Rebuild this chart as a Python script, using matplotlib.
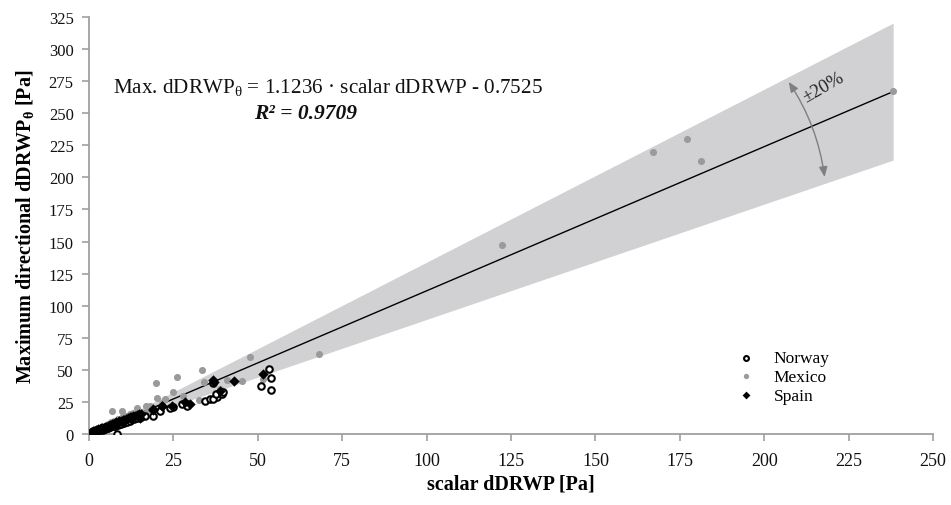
import matplotlib.pyplot as plt
import numpy as np

plt.rcParams['font.family'] = ['Liberation Serif', 'DejaVu Serif']
plt.rcParams['mathtext.fontset'] = 'custom'
plt.rcParams['mathtext.rm'] = 'Liberation Serif'
plt.rcParams['mathtext.it'] = 'Liberation Serif:italic'
plt.rcParams['mathtext.bf'] = 'Liberation Serif:bold'

# data (scalar dDRWP, max directional dDRWP)
norway_x = [0.2, 0.8, 1.3, 1.9, 2.6, 3.3, 4.0, 4.8, 5.5, 6.3, 7.0, 7.8, 8.2, 8.6, 9.5,
            10.4, 11.3, 12.2, 13.2, 14.3, 15.4, 16.5, 19.0, 21.0, 25.0, 24.0, 27.5, 28.9,
            28.9, 34.4, 35.8, 37.8, 36.8, 37.5, 39.3, 39.6, 36.6, 50.8, 53.4, 53.8, 53.8]
norway_y = [0.1, 0.6, 1.0, 1.5, 2.1, 2.8, 3.4, 4.0, 4.7, 5.4, 6.0, 6.6, 0.0, 7.4, 8.1,
            8.9, 9.7, 10.5, 11.4, 12.3, 13.2, 14.0, 14.3, 18.2, 20.8, 20.3, 23.6, 23.4,
            21.6, 26.0, 27.3, 28.6, 27.3, 31.2, 31.2, 33.0, 39.5, 37.2, 50.7, 43.6, 34.5]

mexico_x = [0.5, 1.5, 2.5, 3.5, 4.5, 5.5, 6.9, 6.5, 7.5, 8.5, 9.9, 10.2, 11.0, 12.0, 13.0,
            14.3, 15.1, 16.8, 17.5, 19.9, 20.0, 22.5, 24.8, 26.2, 27.9, 32.6, 33.6, 34.0,
            38.8, 41.0, 45.2, 47.7, 51.6, 68.0, 122.3, 167.2, 177.2, 181.3, 238.2, 15.5,
            18.0, 21.5, 2.0, 4.0]
mexico_y = [1.5, 3.0, 4.2, 5.5, 6.5, 8.0, 18.2, 9.0, 10.5, 11.5, 18.2, 13.8, 14.0, 15.5, 16.5,
            20.0, 11.7, 22.0, 19.0, 39.7, 28.0, 27.3, 33.0, 44.7, 29.9, 26.5, 49.9, 40.2,
            35.0, 42.1, 41.0, 59.8, 42.9, 62.5, 147.3, 220.0, 230.2, 212.5, 267.1, 17.0,
            21.5, 24.5, 2.8, 4.0]

spain_x = [0.3, 0.6, 0.9, 1.2, 1.5, 1.8, 2.1, 2.5, 2.8, 3.2, 3.5, 3.9, 4.3, 4.7, 5.1, 5.5,
           5.9, 6.3, 6.8, 7.2, 7.7, 8.1, 8.6, 9.0, 9.5, 10.0, 10.5, 11.0, 11.5, 12.0, 12.5,
           13.0, 13.6, 14.2, 14.8, 15.5, 2.0, 4.0, 6.0, 8.0, 10.2, 12.3, 15.0, 18.9, 19.0,
           21.5, 21.5, 24.5, 28.4, 29.9, 36.8, 37.0, 43.0, 51.5, 38.8]
spain_y = [0.5, 1.2, 1.5, 2.0, 2.2, 2.5, 3.0, 3.2, 3.6, 3.9, 4.3, 4.6, 5.0, 5.5, 5.8, 6.3,
           6.6, 7.1, 7.5, 8.1, 8.4, 9.0, 9.4, 10.0, 10.3, 10.9, 11.2, 12.0, 12.3, 13.0, 13.3,
           14.0, 14.4, 15.0, 15.5, 15.8, 1.6, 3.8, 5.4, 7.4, 9.6, 11.5, 12.8, 18.7, 19.5,
           22.0, 21.6, 22.0, 24.7, 23.4, 42.3, 40.5, 41.2, 46.5, 33.7]

slope = 1.1236
intercept = -0.7525
band = 0.20
x_max = 238.2

fig = plt.figure(figsize=(9.51, 5.06), dpi=100)
ax = fig.add_axes([0.0936, 0.1403, 0.8875, 0.8241])

xf = np.linspace(0, x_max, 200)
yf = slope * xf + intercept
ax.fill_between(xf, yf * (1 - band), yf * (1 + band), color='#d1d1d3', lw=0, zorder=1)
ax.plot(xf, yf, color='black', lw=1.0, zorder=2)

ax.scatter(mexico_x, mexico_y, s=26, color='#9a9a9a', lw=0, zorder=3, label='Mexico')
ax.scatter(norway_x, norway_y, s=22, facecolor='white', edgecolor='black', lw=1.5,
           zorder=4, label='Norway')
ax.scatter(spain_x, spain_y, s=28, marker='D', color='black', lw=0, zorder=5, label='Spain')

# +-20% arrow
ax.annotate('', xy=(218.0, 198.2), xytext=(206.8, 276.2),
            arrowprops=dict(arrowstyle='<|-|>,head_length=0.6,head_width=0.25',
                            color='#7f7f7f', lw=1.0, connectionstyle='arc3,rad=-0.12'),
            zorder=6)
ax.text(217.5, 270.5, '±20%', rotation=30, ha='center', va='center', fontsize=13.5,
        color='#222222', zorder=6)

ax.text(7.1, 271, r'Max. dDRWP$_{\mathrm{\theta}}$ = 1.1236 · scalar dDRWP - 0.7525',
        fontsize=15.2, ha='left', va='center', color='#111111')
ax.text(64, 250, 'R² = 0.9709', fontsize=15.5, fontweight='bold', fontstyle='italic',
        ha='center', va='center', color='#111111')

ax.set_xlim(0, 250)
ax.set_ylim(0, 325)
ax.set_xticks(np.arange(0, 251, 25))
ax.set_yticks(np.arange(0, 326, 25))
for s in ['top', 'right']:
    ax.spines[s].set_visible(False)
for s in ['left', 'bottom']:
    ax.spines[s].set_color('#a0a0a0')
    ax.spines[s].set_linewidth(1.3)
ax.tick_params(direction='out', length=5, width=1.2, color='#a0a0a0',
               labelcolor='#111111')
ax.tick_params(axis='x', labelsize=13, pad=8)
ax.tick_params(axis='y', labelsize=12, pad=6)

ax.set_xlabel('scalar dDRWP [Pa]', fontsize=14.5, fontweight='bold', labelpad=3)
ax.set_ylabel(r'Maximum directional dDRWP$_{\mathbf{\theta}}$ [Pa]', fontsize=14.5,
              fontweight='bold', labelpad=9)

h, l = ax.get_legend_handles_labels()
order = [1, 0, 2]
leg = ax.legend([h[i] for i in order], [l[i] for i in order], loc='center',
                bbox_to_anchor=(0.823, 0.137), frameon=False, fontsize=12.5,
                markerscale=0.75, labelspacing=0.15, handletextpad=1.1, handlelength=1.0)

fig.savefig('out.png', dpi=100)
